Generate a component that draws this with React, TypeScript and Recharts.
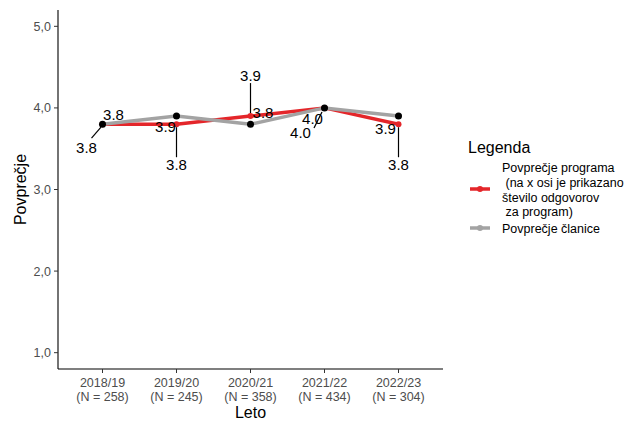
import React from "react";
import {
  LineChart,
  Line,
  XAxis,
  YAxis,
  LabelList,
  Legend,
} from "recharts";

const years = ["2018/19", "2019/20", "2020/21", "2021/22", "2022/23"];
const responses = [258, 245, 358, 434, 304];
const programAvg = [3.8, 3.8, 3.9, 4.0, 3.8];
const memberAvg = [3.8, 3.9, 3.8, 4.0, 3.9];
const yTicks = [1, 2, 3, 4, 5];

const FONT = "'Liberation Sans', Arial, sans-serif";
const RED = "#e4262a";
const GREY = "#a3a3a3";

const data = years.map((y, i) => ({
  year: y,
  n: responses[i],
  program: programAvg[i],
  member: memberAvg[i],
}));

// label placement, repel-style: text offset from point + optional leader line
type Place = { dx: number; dy: number; lead?: [number, number, number, number] };

const programPlaces: Place[] = [
  { dx: -16, dy: 29, lead: [-1.5, 3, -11, 14] },
  { dx: 0, dy: 46, lead: [0, 3, 0, 33] },
  { dx: 0, dy: -35, lead: [0, -3, 0, -33] },
  { dx: -24, dy: 30, lead: [-2.5, 4, -10.5, 20] },
  { dx: 0, dy: 46, lead: [0, 3, 0, 33] },
];

const memberPlaces: Place[] = [
  { dx: 11, dy: -4 },
  { dx: -11, dy: 16 },
  { dx: 12.5, dy: -6 },
  { dx: -12, dy: 16 },
  { dx: -13, dy: 18 },
];

const makeLabel = (places: Place[]) => (props: any) => {
  const { x, y, index, value } = props;
  const p = places[index];
  if (!p) return null;
  return (
    <g key={`lbl-${index}`}>
      {p.lead && (
        <line
          x1={x + p.lead[0]}
          y1={y + p.lead[1]}
          x2={x + p.lead[2]}
          y2={y + p.lead[3]}
          stroke="#000"
          strokeWidth={1.2}
        />
      )}
      <text
        x={x + p.dx}
        y={y + p.dy}
        textAnchor="middle"
        fontSize={15}
        fontFamily={FONT}
        fill="#000"
      >
        {Number(value).toFixed(1)}
      </text>
    </g>
  );
};

const XTick = (props: any) => {
  const { x, y, payload, index } = props;
  return (
    <text x={x} y={y} textAnchor="middle" fontSize={12.5} fontFamily={FONT} fill="#4d4d4d">
      <tspan x={x} dy={12}>{payload.value}</tspan>
      <tspan x={x} dy={13.5}>{`(N = ${responses[index]})`}</tspan>
    </text>
  );
};

const LegendBox = () => (
  <svg width={172} height={110}>
    <text x={13} y={18} fontSize={16} fontFamily={FONT} fill="#000">
      Legenda
    </text>
    <g fontSize={12.5} fontFamily={FONT} fill="#000">
      <line x1={15} x2={35} y1={54} y2={54} stroke={RED} strokeWidth={3.5} />
      <circle cx={25} cy={54} r={3} fill={RED} />
      <text x={47} y={37}>Povprečje programa</text>
      <text x={47} y={52} xmlSpace="preserve"> (na x osi je prikazano</text>
      <text x={47} y={67}>število odgovorov</text>
      <text x={47} y={81} xmlSpace="preserve"> za program)</text>
      <line x1={15} x2={35} y1={93} y2={93} stroke={GREY} strokeWidth={3.5} />
      <circle cx={25} cy={93} r={3} fill={GREY} />
      <text x={47} y={98}>Povprečje članice</text>
    </g>
  </svg>
);

export default function App() {
  return (
    <div style={{ position: "absolute", left: 0, top: 0, width: 627, height: 421, background: "#fff" }}>
      <LineChart
        width={627}
        height={421}
        data={data}
        margin={{ top: 10, right: 184, bottom: 0, left: 0 }}
      >
        <XAxis
          dataKey="year"
          height={52}
          padding={{ left: 44.5, right: 44.5 }}
          axisLine={{ stroke: "#000", strokeWidth: 1.1 }}
          tickLine={{ stroke: "#333" }}
          tickSize={4}
          tickMargin={2}
          tick={<XTick />}
          interval={0}
          label={(p: any) => {
            const vb = p.viewBox;
            return (
              <text
                x={vb.x + vb.width / 2}
                y={vb.y + 49}
                textAnchor="middle"
                fontSize={16}
                fontFamily={FONT}
                fill="#000"
              >
                Leto
              </text>
            );
          }}
        />
        <YAxis
          width={58}
          type="number"
          domain={[0.8, 5.2]}
          ticks={yTicks}
          allowDataOverflow
          tickFormatter={(v: number) => v.toFixed(1).replace(".", ",")}
          axisLine={{ stroke: "#000", strokeWidth: 1.1 }}
          tickLine={{ stroke: "#333" }}
          tickSize={4}
          tickMargin={3}
          tick={{ fontSize: 12.5, fontFamily: FONT, fill: "#4d4d4d" }}
          label={(p: any) => {
            const vb = p.viewBox;
            const cx = vb.x + 20;
            const cy = vb.y + vb.height / 2;
            return (
              <text
                x={cx}
                y={cy}
                transform={`rotate(-90, ${cx}, ${cy})`}
                textAnchor="middle"
                dominantBaseline="central"
                fontSize={16}
                fontFamily={FONT}
                fill="#000"
              >
                Povprečje
              </text>
            );
          }}
        />
        <Legend
          layout="vertical"
          align="center"
          verticalAlign="middle"
          content={<LegendBox />}
          wrapperStyle={{ left: 455, top: 135, width: 172, height: 110 }}
        />
        <Line
          dataKey="program"
          stroke={RED}
          strokeWidth={3.5}
          dot={{ r: 3, fill: RED, stroke: "none" }}
          activeDot={false}
          isAnimationActive={false}
        >
          <LabelList dataKey="program" content={makeLabel(programPlaces)} />
        </Line>
        <Line
          dataKey="member"
          stroke={GREY}
          strokeWidth={3.5}
          dot={{ r: 3.5, fill: "#000", stroke: "none" }}
          activeDot={false}
          isAnimationActive={false}
        >
          <LabelList dataKey="member" content={makeLabel(memberPlaces)} />
        </Line>
      </LineChart>
    </div>
  );
}
